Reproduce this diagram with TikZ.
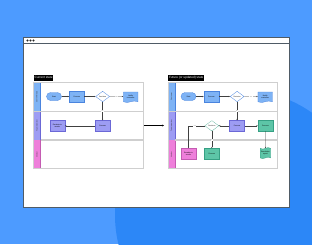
\documentclass[tikz,border=0pt]{standalone}
\usepackage{fontspec}
\setmainfont{Liberation Sans}
\usetikzlibrary{arrows.meta,positioning,shapes.geometric,shapes.symbols}
\definecolor{bg-blue}{HTML}{4D9BFF}
\definecolor{bg-deep}{HTML}{2C87F7}
\definecolor{frame-draw}{HTML}{4F5B66}
\definecolor{laneA}{HTML}{7EB3F5}
\definecolor{laneAd}{HTML}{4A84DE}
\definecolor{laneB}{HTML}{9D9CF3}
\definecolor{laneBd}{HTML}{6B68D6}
\definecolor{laneC}{HTML}{EE7FDA}
\definecolor{laneCd}{HTML}{C45BB2}
\definecolor{secG}{HTML}{5DC5A7}
\definecolor{secGd}{HTML}{36A084}
\definecolor{grid-line}{HTML}{CFCFCF}

\begin{document}
\begin{tikzpicture}[x=1pt, y=-1pt,
 font=\fontsize{1.8}{2.1}\selectfont,
 base/.style={draw, line width=0.3pt, align=center, inner sep=0.4pt},
 startbox/.style={base, rounded corners=4pt, fill=laneA, draw=laneAd, minimum width=15pt, minimum height=8pt},
 procbox/.style={base, minimum width=15pt, minimum height=10.5pt},
 decbox/.style={base, diamond, fill=white, draw=laneAd, minimum width=14pt, minimum height=10.5pt},
 docbox/.style={base, tape, tape bend top=none, tape bend height=1.5pt, minimum width=14.5pt, minimum height=10.5pt},
 chip/.style={fill=black, text=white, font=\fontsize{3.1}{3.5}\selectfont, inner sep=0.9pt, minimum height=6pt, anchor=north west},
 lanetxt/.style={rotate=90, text=black!80},
 lbl/.style={fill=white, text=gray, inner sep=0.3pt, font=\fontsize{1.5}{1.8}\selectfont},
 ar/.style={-{Stealth[length=1.4pt, width=1.2pt]}, line width=0.22pt, black!75},
]
 \useasboundingbox (0,0) rectangle (312,244);
 % backdrop
 \fill[bg-blue] (0,0) rectangle (312,244);
 \begin{scope}
  \clip (0,0) rectangle (312,244);
  \fill[bg-deep] (240,215) circle (125);
 \end{scope}
 % browser window
 \draw[frame-draw, fill=white, line width=0.6pt] (23.5,37.5) rectangle (289,207.5);
 \draw[frame-draw, line width=0.5pt] (23.5,43.5) -- (289,43.5);
 \foreach \i in {0,1,2} \fill[black!85] (27.5+3*\i,40.5) circle (1.1);

 % pools
 \foreach \ox/\la/\lb/\lc in {0/Customer app/Team member/Vendor, 134.5/Customer/Team member/Vendor}{
  \begin{scope}[xshift=\ox pt]
   \fill[laneA] (33.5,82) rectangle (40.5,111.5);
   \fill[laneB] (33.5,111.5) rectangle (40.5,140);
   \fill[laneC] (33.5,140) rectangle (40.5,168.5);
   \draw[laneAd, line width=0.4pt] (40.5,82) -- (40.5,111.5);
   \draw[laneBd, line width=0.4pt] (40.5,111.5) -- (40.5,140);
   \draw[laneCd, line width=0.4pt] (40.5,140) -- (40.5,168.5);
   \draw[grid-line, line width=0.5pt] (33.5,82) rectangle (143,168.5);
   \draw[grid-line, line width=0.5pt] (33.5,111.5) -- (143,111.5);
   \draw[grid-line, line width=1.3pt] (40.5,140) -- (143,140);
   \node[lanetxt] at (37,96.75) {\la};
   \node[lanetxt] at (37,125.75) {\lb};
   \node[lanetxt] at (37,154.25) {\lc};
  \end{scope}
 }
 \node[chip] (ltitle) at (33.5,74.5) {Current state};
 \node[chip] (rtitle) at (168,74.5) {Future (or updated) state};

 % current state
 \node[startbox] (lstart) at (54,96.5) {Start};
 \node[procbox, fill=laneA, draw=laneAd, right=7.5pt of lstart] (lproc) {Process};
 \node[decbox, right=11pt of lproc] (ldec) {Decision};
 \node[docbox, fill=laneA, draw=laneAd, right=13.5pt of ldec] (ldoc) {Notify\\ customer};
 \node[procbox, fill=laneB, draw=laneBd, below=18.5pt of ldec] (lproc2) {Process};
 \node[procbox, fill=laneB, draw=laneBd, left=30pt of lproc2] (lesc) {Escalate to\\ vendor};

 \draw[ar] (lstart) -- (lproc);
 \draw[ar] (lproc) -- (ldec);
 \draw[ar] (ldec) -- node[lbl]{Yes} (ldoc);
 \draw[ar] (ldec) -- node[lbl]{No} (lproc2);
 \draw[ar] (lproc2) -- (lesc);

 % future state
 \node[startbox] (rstart) at (188.5,96.5) {Start};
 \node[procbox, fill=laneA, draw=laneAd, right=7.5pt of rstart] (rproc) {Process};
 \node[decbox, right=11pt of rproc] (rdec) {Decision};
 \node[docbox, fill=laneA, draw=laneAd, right=13.5pt of rdec] (rdoc) {Notify\\ customer};
 \node[procbox, fill=laneB, draw=laneBd, below=18.5pt of rdec] (rproc2) {Process};
 \node[decbox, draw=secGd, dashed, dash pattern=on 0.8pt off 0.5pt, left=10.5pt of rproc2] (rdec2) {Decision};
 \node[procbox, fill=secG, draw=secGd, right=13pt of rproc2] (rgproc) {Process};
 \node[procbox, fill=secG, draw=secGd, below=17pt of rdec2, minimum height=11pt] (rgproc2) {Process};
 \node[procbox, fill=laneC, draw=laneCd, minimum height=11pt] (resc) at (rstart |- rgproc2) {Escalate to\\ vendor};
 \node[docbox, tape bend top=in and out, fill=secG, draw=secGd, minimum width=10.5pt, minimum height=11pt, below=17pt of rgproc] (rgdoc) {Resolution\\ report};

 \draw[ar] (rstart) -- (rproc);
 \draw[ar] (rproc) -- (rdec);
 \draw[ar] (rdec) -- node[lbl]{Yes} (rdoc);
 \draw[ar] (rdec) -- node[lbl]{No} (rproc2);
 \draw[ar] (rproc2) -- (rdec2);
 \draw[ar] (rproc2) -- (rgproc);
 \draw[ar] (rdec2) -| node[lbl, pos=0.3]{Yes} (resc);
 \draw[ar] (rdec2) -- node[lbl]{No} (rgproc2);
 \draw[ar] (rgproc) -- (rgdoc);

 % before -> after
 \coordinate (lpool) at (144,125.5);
 \coordinate (rpool) at (164,125.5);
 \draw[-{Stealth[length=2pt, width=1.8pt]}, line width=0.6pt] (lpool) -- (rpool);
\end{tikzpicture}
\end{document}
